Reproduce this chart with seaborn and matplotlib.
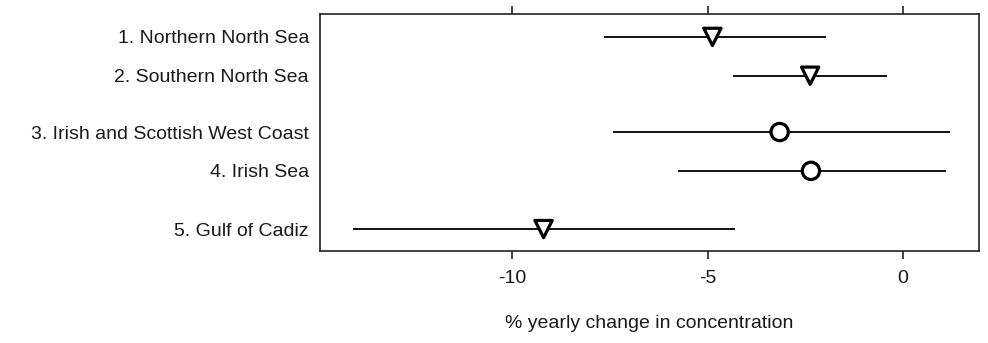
import matplotlib
matplotlib.use("Agg")
import matplotlib.pyplot as plt
import seaborn as sns
import pandas as pd

# Regional trend estimates (% yearly change) with 95% confidence limits
regions = [
    "1. Northern North Sea",
    "2. Southern North Sea",
    "3. Irish and Scottish West Coast",
    "4. Irish Sea",
    "5. Gulf of Cadiz",
]
estimate = [-4.88, -2.38, -3.16, -2.36, -9.20]
lower = [-7.66, -4.35, -7.42, -5.76, -14.07]
upper = [-1.98, -0.42, 1.21, 1.09, -4.31]
trend = ["decrease", "decrease", "no trend", "no trend", "decrease"]
row_pos = [0, 1, 2.45, 3.45, 4.95]
x_ticks = [-10, -5, 0]

df = pd.DataFrame({
    "region": regions,
    "estimate": estimate,
    "lower": lower,
    "upper": upper,
    "trend": trend,
    "row": row_pos,
})

sns.set_theme(style="white")
plt.rcParams["font.family"] = ["Liberation Sans", "DejaVu Sans"]

fig = plt.figure(figsize=(9.88, 3.43), dpi=100)
ax = fig.add_axes([320 / 988, 1 - 251 / 343, (979 - 320) / 988, (251 - 14) / 343])

# Confidence intervals
ax.hlines(df["row"], df["lower"], df["upper"], color="#111111", linewidth=1.4, zorder=1)

# Point estimates: triangles for significant declines, circles otherwise
sns.scatterplot(
    data=df, x="estimate", y="row", style="trend",
    markers={"decrease": "v", "no trend": "o"},
    s=155, facecolor="white", edgecolor="black", linewidth=2.3,
    legend=False, ax=ax, zorder=3,
)

fs = 14
ax.set_xlim(-14.92, 1.94)
ax.set_ylim(4.95 + 22 / 39, -23 / 39)
ax.set_yticks(row_pos)
ax.set_yticklabels(regions, fontsize=fs, color="#1a1a1a")
ax.set_xticks(x_ticks)
ax.set_xticklabels([str(t) for t in x_ticks], fontsize=fs, color="#1a1a1a")
ax.tick_params(axis="x", which="both", direction="out", length=6, width=1.2,
               color="#222222", top=True, bottom=True, labeltop=False, pad=8)
ax.tick_params(axis="y", length=0, pad=8)
ax.set_xlabel("% yearly change in concentration", fontsize=fs, color="#1a1a1a", labelpad=20)
ax.set_ylabel("")

for side in ["left", "right", "top", "bottom"]:
    ax.spines[side].set_visible(True)
    ax.spines[side].set_color("#222222")
    ax.spines[side].set_linewidth(1.2)

fig.savefig("out.png", dpi=100, facecolor="white")
